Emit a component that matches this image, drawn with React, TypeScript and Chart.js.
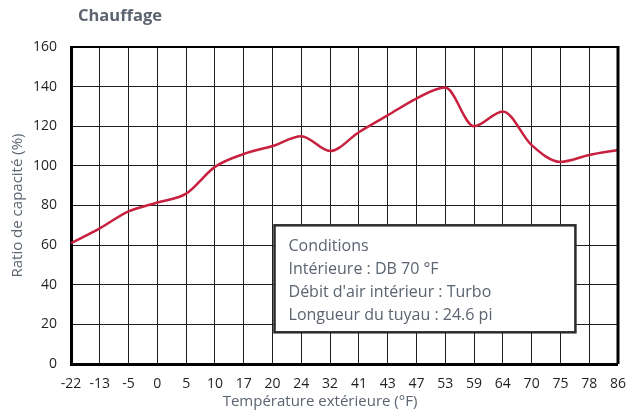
import { useEffect, useRef } from "react";
import { Chart, registerables } from "chart.js";

Chart.register(...registerables);

const chartTitle = "Chauffage";
const xAxisTitle = "Température extérieure (°F)";
const yAxisTitle = "Ratio de capacité (%)";
const categories = ["-22", "-13", "-5", "0", "5", "10", "17", "20", "24", "32", "41", "43", "47", "53", "59", "64", "70", "75", "78", "86"];
const capacityRatio = [61, 68.5, 77, 81.5, 86, 99.5, 106, 110, 115, 107.5, 117, 125.5, 134, 139.5, 120, 127.5, 110.5, 102, 105.5, 108];
const yTicks = [0, 20, 40, 60, 80, 100, 120, 140, 160];
const conditionLines = ["Conditions", "Intérieure : DB 70 °F", "Débit d'air intérieur : Turbo", "Longueur du tuyau : 24.6 pi"];

const FONT = '"Open Sans", "Noto Sans", sans-serif';
const GREY = "#5b6470";

const overlay = {
  id: "overlay",
  afterDatasetsDraw(chart: any) {
    const { ctx, scales } = chart;
    const x = scales.x;
    const y = scales.y;
    const left = x.getPixelForValue(7) + 2;
    const right = x.getPixelForValue(17) + 15;
    const top = y.getPixelForValue(70);
    const bottom = y.getPixelForValue(16);
    ctx.save();
    ctx.fillStyle = "#ffffff";
    ctx.fillRect(left, top, right - left, bottom - top);
    ctx.strokeStyle = "#2b2b2b";
    ctx.lineWidth = 2.5;
    ctx.strokeRect(left, top, right - left, bottom - top);
    ctx.fillStyle = GREY;
    ctx.font = `16px ${FONT}`;
    ctx.textAlign = "left";
    ctx.textBaseline = "middle";
    conditionLines.forEach((t, i) => {
      ctx.fillText(t, left + 14, top + 21 + i * 23);
    });
    ctx.restore();
  },
  afterDraw(chart: any) {
    const { ctx, chartArea } = chart;
    ctx.save();
    ctx.strokeStyle = "#000";
    ctx.lineWidth = 2;
    ctx.beginPath();
    ctx.moveTo(chartArea.left, chartArea.top);
    ctx.lineTo(chartArea.right, chartArea.top);
    ctx.stroke();
    ctx.lineWidth = 3;
    ctx.beginPath();
    ctx.moveTo(chartArea.right, chartArea.top - 1);
    ctx.lineTo(chartArea.right, chartArea.bottom);
    ctx.stroke();

    ctx.fillStyle = GREY;
    ctx.font = `bold 16.5px ${FONT}`;
    ctx.textAlign = "left";
    ctx.textBaseline = "middle";
    ctx.fillText(chartTitle, 78, 16);

    ctx.font = `15px ${FONT}`;
    ctx.textAlign = "center";
    ctx.fillText(xAxisTitle, 320, 402);

    ctx.translate(18, (chartArea.top + chartArea.bottom) / 2);
    ctx.rotate(-Math.PI / 2);
    ctx.fillText(yAxisTitle, 0, 0);
    ctx.restore();
  },
};

export default function App() {
  const ref = useRef<HTMLCanvasElement>(null);
  useEffect(() => {
    if (!ref.current) return;
    const chart = new Chart(ref.current, {
      type: "line",
      data: {
        labels: categories,
        datasets: [
          {
            data: capacityRatio,
            borderColor: "#c8203f",
            borderWidth: 2.5,
            pointRadius: 0,
            cubicInterpolationMode: "monotone",
            fill: false,
          },
        ],
      },
      options: {
        responsive: false,
        animation: false,
        layout: { padding: { left: 0, top: 47, right: 19, bottom: 0 } },
        plugins: { legend: { display: false }, tooltip: { enabled: false }, title: { display: false } },
        scales: {
          x: {
            type: "category",
            offset: false,
            grid: { color: "#1e1e1e", lineWidth: 1, drawTicks: false },
            border: { display: true, color: "#000", width: 3 },
            ticks: { color: "#231f20", font: { family: FONT, size: 14 }, padding: 12, autoSkip: false, maxRotation: 0 },
            afterFit: (s: any) => {
              s.height = 48;
            },
          },
          y: {
            min: 0,
            max: 160,
            grid: { color: "#1e1e1e", lineWidth: 1, drawTicks: false },
            border: { display: true, color: "#000", width: 3 },
            ticks: { color: "#231f20", font: { family: FONT, size: 14 }, padding: 14 },
            afterBuildTicks: (s: any) => {
              s.ticks = yTicks.map((v) => ({ value: v }));
            },
            afterFit: (s: any) => {
              s.width = 71;
            },
          },
        },
      },
      plugins: [overlay],
    });
    return () => chart.destroy();
  }, []);
  return (
    <div style={{ position: "fixed", left: 0, top: 0, width: 638, height: 412, background: "#fff" }}>
      <canvas ref={ref} width={638} height={412} />
    </div>
  );
}
